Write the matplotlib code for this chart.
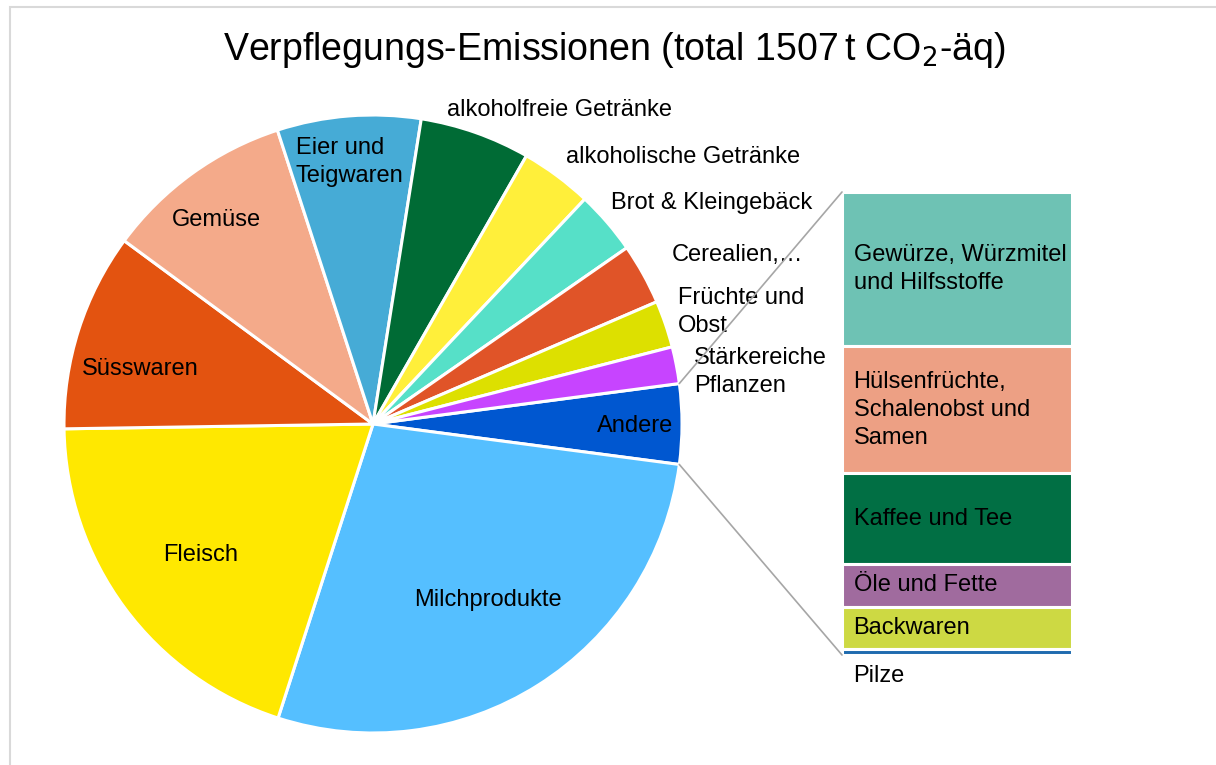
import numpy as np
import matplotlib
matplotlib.use("Agg")
import matplotlib.pyplot as plt
from matplotlib.patches import ConnectionPatch, Rectangle

plt.rcParams['font.family'] = ['Liberation Sans', 'DejaVu Sans']

# main pie, t CO2-eq (total 1507)
pie_labels = ["Andere", "Milchprodukte", "Fleisch", "Süsswaren", "Gemüse",
              "Eier und\nTeigwaren", "alkoholfreie Getränke", "alkoholische Getränke",
              "Brot & Kleingebäck", "Cerealien,…", "Früchte und\nObst",
              "Stärkereiche\nPflanzen"]
pie_values = [63, 420, 298, 156, 149, 113, 87, 56.5, 50, 48, 37, 29]
pie_colors = ["#0057D0", "#55BFFF", "#FFE800", "#E35310", "#F4AA8A", "#46ABD6",
              "#006B35", "#FFEF3A", "#56E0C8", "#E05428", "#DDE000", "#C744FF"]

# breakdown of "Andere"
bar_labels = ["Gewürze, Würzmitel\nund Hilfsstoffe", "Hülsenfrüchte,\nSchalenobst und\nSamen",
              "Kaffee und Tee", "Öle und Fette", "Backwaren", "Pilze"]
bar_values = [21.0, 17.3, 12.4, 5.8, 5.8, 0.8]
bar_colors = ["#6EC2B4", "#EDA084", "#016F44", "#A06B9E", "#CDD943", "#1F6BAF"]

total = 1507

fig = plt.figure(figsize=(12.16, 7.65), dpi=100)

# light chart border (only top/left visible in the crop)
fig.patches.append(Rectangle((10 / 1216, -0.1), 1.2, 1 - 7 / 765 + 0.1,
                             transform=fig.transFigure, fill=False,
                             edgecolor="#D9D9D9", lw=1.5))

fig.text(614 / 1216, 1 - 50 / 765,
         r"Verpflegungs-Emissionen (total 1507$\,$t CO$_2$-äq)",
         ha="center", va="center", fontsize=27)

# pie
ax = fig.add_axes([64 / 1216, 32 / 765, 618 / 1216, 618 / 765])
andere_share = pie_values[0] / sum(pie_values) * 360
start = andere_share / 2
wedges, _ = ax.pie(pie_values, colors=pie_colors, startangle=start, counterclock=False,
                   wedgeprops=dict(edgecolor="white", linewidth=2.2))
ax.set_xlim(-1, 1)
ax.set_ylim(-1, 1)
ax.set_aspect("equal")
ax.axis("off")

# label positions (radius units) and alignment
label_pos = [
    (0.848, -0.006, "center"),
    (0.372, -0.570, "center"),
    (-0.557, -0.424, "center"),
    (-0.754, 0.178, "center"),
    (-0.508, 0.660, "center"),
    (-0.250, 0.848, "left"),
    (0.238, 1.016, "left"),
    (0.623, 0.864, "left"),
    (0.770, 0.715, "left"),
    (0.968, 0.547, "left"),
    (0.987, 0.362, "left"),
    (1.039, 0.168, "left"),
]
for lab, (x, y, ha) in zip(pie_labels, label_pos):
    ax.text(x, y, lab, ha=ha, va="center", fontsize=17, linespacing=1.35)

# stacked bar for "Andere"
bx = fig.add_axes([842 / 1216, 1 - 655 / 765, 230 / 1216, 463 / 765])
bottom = sum(bar_values)
for lab, val, col in zip(bar_labels, bar_values, bar_colors):
    bottom -= val
    bx.bar(0.5, val, bottom=bottom, width=1, color=col, edgecolor="white", linewidth=2.2)
    if lab == "Pilze":
        bx.text(0.05, bottom - 2.9, lab, ha="left", va="center", fontsize=17)
    else:
        bx.text(0.05, bottom + val / 2, lab, ha="left", va="center", fontsize=17,
                linespacing=1.35)
bx.set_xlim(0, 1)
bx.set_ylim(0, sum(bar_values))
bx.axis("off")

# connector lines from "Andere" wedge to the bar
w = wedges[0]
for ang, ybar in [(w.theta2, sum(bar_values)), (w.theta1, 0)]:
    xy = (np.cos(np.radians(ang)), np.sin(np.radians(ang)))
    con = ConnectionPatch(xyA=xy, coordsA=ax.transData, xyB=(0, ybar), coordsB=bx.transData,
                          color="#A6A6A6", lw=1.2)
    fig.add_artist(con)

fig.savefig("out.png", dpi=100)
